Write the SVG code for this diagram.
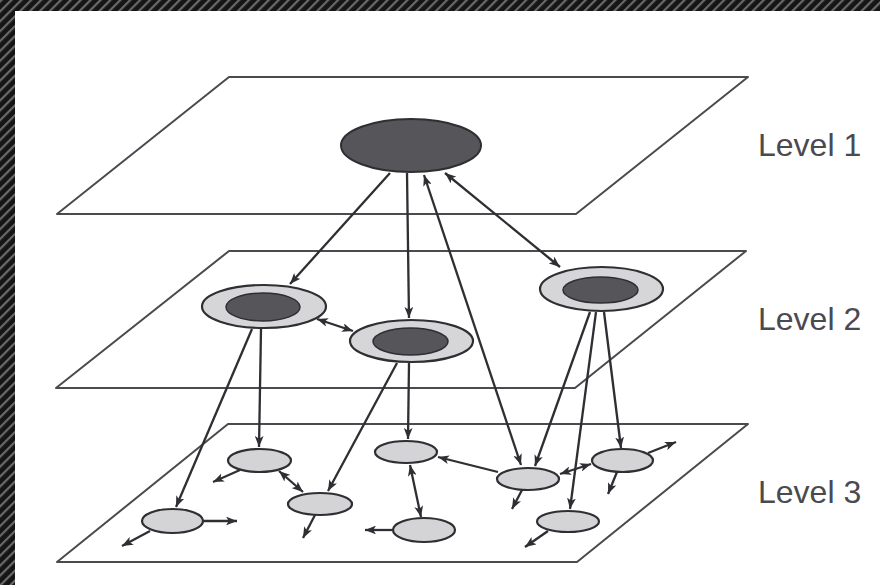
<svg xmlns="http://www.w3.org/2000/svg" width="880" height="585" viewBox="0 0 880 585">
<defs>
<pattern id="hatch" width="7" height="7" patternUnits="userSpaceOnUse" patternTransform="rotate(45)">
<rect width="7" height="7" fill="#151515"/>
<rect x="0" y="0" width="2.2" height="7" fill="#6a6a6a"/>
</pattern>
<marker id="ah" viewBox="0 0 10 8" refX="10" refY="4" markerWidth="11" markerHeight="8.8" markerUnits="userSpaceOnUse" orient="auto-start-reverse">
<path d="M0,0 L10,4 L0,8 L2.5,4 z" fill="#2e2e33"/>
</marker>
<style>
.plane{fill:none;stroke:#4a4a4f;stroke-width:2;stroke-linejoin:round}
.c{stroke:#2e2e33;stroke-width:2.3;fill:none}
.one{marker-end:url(#ah)}
.two{marker-start:url(#ah);marker-end:url(#ah)}
.l1{fill:#55555a;stroke:#2e2e33;stroke-width:2}
.outer{fill:#d6d6d8;stroke:#2e2e33;stroke-width:2.2}
.inner{fill:#55555a;stroke:#2e2e33;stroke-width:1.5}
.l3{fill:#d4d4d6;stroke:#2e2e33;stroke-width:2.2}
.lbl{font-family:"Liberation Sans",Arial,sans-serif;font-size:32px;fill:#4a4a4f}
</style>
</defs>
<rect width="880" height="585" fill="#ffffff"/>
<rect x="0" y="0" width="880" height="11" fill="url(#hatch)"/>
<rect x="0" y="0" width="15" height="585" fill="url(#hatch)"/>

<g id="planes">
<polygon class="plane" points="229,77 748,77 576,214 57,214"/>
<polygon class="plane" points="229,251 746,251 575,388 56,388"/>
<polygon class="plane" points="228,424 748,424 577,562 57,562"/>
</g>

<g id="labels">
<text class="lbl" x="758" y="156">Level 1</text>
<text class="lbl" x="758" y="330">Level 2</text>
<text class="lbl" x="758" y="503">Level 3</text>
</g>

<g id="connectors">
<line class="c one" x1="390" y1="173" x2="290" y2="284"/>
<line class="c one" x1="407" y1="173" x2="409" y2="318"/>
<line class="c two" x1="424" y1="175" x2="521" y2="465"/>
<line class="c two" x1="445" y1="173" x2="560" y2="267"/>
<line class="c two" x1="317" y1="319" x2="353" y2="331"/>
<line class="c one" x1="261" y1="329" x2="259" y2="447"/>
<line class="c one" x1="252" y1="329" x2="176" y2="507"/>
<line class="c one" x1="397" y1="363" x2="328" y2="491"/>
<line class="c one" x1="409" y1="363" x2="408" y2="439"/>
<line class="c one" x1="590" y1="312" x2="535" y2="466"/>
<line class="c one" x1="596" y1="312" x2="570" y2="509"/>
<line class="c one" x1="604" y1="312" x2="621" y2="448"/>
<line class="c one" x1="240" y1="470" x2="213" y2="482"/>
<line class="c two" x1="279" y1="471" x2="303" y2="492"/>
<line class="c one" x1="315" y1="515" x2="303" y2="538"/>
<line class="c one" x1="203" y1="521" x2="237" y2="521"/>
<line class="c one" x1="150" y1="531" x2="122" y2="546"/>
<line class="c one" x1="393" y1="530" x2="365" y2="530"/>
<line class="c two" x1="410" y1="465" x2="421" y2="517"/>
<line class="c one" x1="498" y1="472" x2="438" y2="457"/>
<line class="c two" x1="560" y1="474" x2="591" y2="464"/>
<line class="c one" x1="522" y1="490" x2="512" y2="509"/>
<line class="c one" x1="648" y1="453" x2="676" y2="442"/>
<line class="c one" x1="617" y1="472" x2="608" y2="494"/>
<line class="c one" x1="548" y1="531" x2="525" y2="547"/>
</g>

<g id="level1-node"><ellipse class="l1" cx="411" cy="145.5" rx="70" ry="26.5"/></g>

<g id="level2-a"><ellipse class="outer" cx="264" cy="306.5" rx="62" ry="21.5"/><ellipse class="inner" cx="263" cy="307" rx="37" ry="14"/></g>
<g id="level2-b"><ellipse class="outer" cx="411.5" cy="341" rx="61.5" ry="21"/><ellipse class="inner" cx="410.5" cy="341.5" rx="37.5" ry="13.5"/></g>
<g id="level2-c"><ellipse class="outer" cx="601.5" cy="289" rx="61.5" ry="22"/><ellipse class="inner" cx="600.5" cy="290" rx="37.5" ry="13"/></g>

<g id="level3-n1"><ellipse class="l3" cx="259.5" cy="460.5" rx="31.5" ry="11.5"/></g>
<g id="level3-n2"><ellipse class="l3" cx="320" cy="504" rx="32" ry="11"/></g>
<g id="level3-n3"><ellipse class="l3" cx="172.5" cy="521" rx="30.5" ry="12"/></g>
<g id="level3-n4"><ellipse class="l3" cx="406" cy="452" rx="31" ry="11"/></g>
<g id="level3-n5"><ellipse class="l3" cx="528" cy="479" rx="31" ry="11"/></g>
<g id="level3-n6"><ellipse class="l3" cx="622.5" cy="460.5" rx="30.5" ry="11.5"/></g>
<g id="level3-n7"><ellipse class="l3" cx="424" cy="530" rx="31" ry="12"/></g>
<g id="level3-n8"><ellipse class="l3" cx="568" cy="521.5" rx="31" ry="10.5"/></g>
</svg>
